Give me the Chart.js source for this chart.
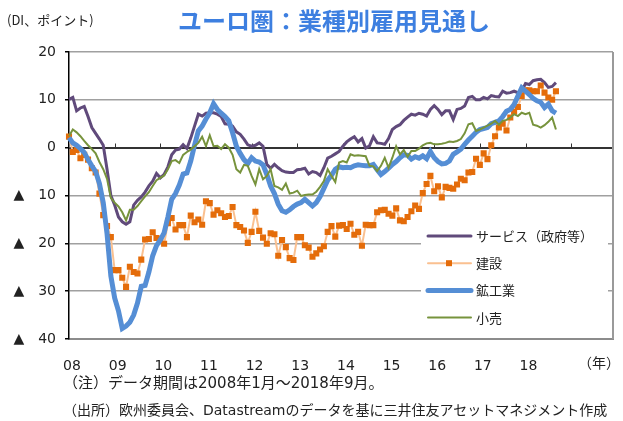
<!DOCTYPE html>
<html lang="ja">
<head>
<meta charset="utf-8">
<script src="https://cdn.jsdelivr.net/npm/chart.js@4.4.1/dist/chart.umd.min.js"></script>
<style>
  html, body { margin: 0; padding: 0; background: #fff; }
  #wrap { position: relative; width: 623px; height: 421px; overflow: hidden; font-family: "DejaVu Sans", "Noto Sans CJK JP", sans-serif; color: #222; }
  #chart { position: absolute; left: 0; top: 0; }
  .txt { position: absolute; white-space: nowrap; line-height: 18px; }
  #unit { left: 7px; top: 11px; font-size: 13px; font-family: "Noto Sans CJK JP", sans-serif; }
  #title { left: 178px; top: 5px; font-size: 24px; line-height: 30px; font-weight: bold; color: #3d7fe0; font-family: "Noto Sans CJK JP", sans-serif; }
  #nen { left: 578px; top: 353px; font-size: 14px; font-family: "Noto Sans CJK JP", sans-serif; }
  #note1 { left: 63px; top: 374px; font-size: 15px; }
  #note2 { left: 63px; top: 401px; font-size: 14px; }
</style>
</head>
<body>
<div id="wrap">
  <canvas id="chart" width="623" height="421"></canvas>
  <div class="txt" id="unit">(DI、ポイント)</div>
  <div class="txt" id="title">ユーロ圏：業種別雇用見通し</div>
  <div class="txt" id="nen">（年）</div>
  <div class="txt" id="note1">（注）データ期間は2008年1月～2018年9月。</div>
  <div class="txt" id="note2">（出所）欧州委員会、Datastreamのデータを基に三井住友アセットマネジメント作成</div>
</div>
<script>
// 2008年1月～2018年9月（月次）
const yearLabels = ["08", "09", "10", "11", "12", "13", "14", "15", "16", "17", "18"];
const seriesNames = ["サービス（政府等）", "建設", "鉱工業", "小売"];

const services = [
  10.1, 10.5, 7.7, 8.3, 8.6, 6.5, 4.2, 3.0, 1.8, 0.5, -4.5, -10.0,
  -12.0, -14.5, -15.5, -16.0, -15.5, -12.0, -11.0, -10.3, -9.3, -8.0, -7.0, -5.4,
  -6.3, -5.6, -4.0, -1.5, -0.5, -0.3, 0.6, -0.2, 2.0, 4.5, 7.0, 6.6,
  7.2, 7.3, 7.3, 7.0, 6.5, 5.0, 4.9, 4.5, 3.3, 2.8, 1.8, 0.6,
  0.3, 0.5, 1.0, 0.3, -3.5, -4.3, -3.5, -4.2, -4.8, -5.1, -5.2, -5.2,
  -4.6, -4.5, -4.3, -5.5, -5.0, -5.2, -5.8, -4.2, -2.2, -1.8, -1.3, -0.8,
  0.3, 1.2, 1.8, 2.3, 1.2, 1.9, -0.1, 0.4, 2.3, 1.0, 0.9, 0.7,
  1.9, 3.8, 4.4, 4.8, 5.7, 6.4, 7.0, 6.8, 7.2, 7.0, 6.6, 8.0,
  8.8, 8.0, 6.9, 7.7, 7.7, 5.9, 8.0, 8.2, 8.7, 10.5, 10.7, 10.0,
  10.0, 10.5, 10.2, 10.9, 10.7, 10.6, 11.8, 11.4, 11.5, 11.8, 11.5, 11.8,
  13.4, 13.2, 14.0, 14.2, 14.3, 13.6, 12.6, 12.8, 13.6
];

const construction = [
  2.3, -0.9, -0.5, -2.2, -1.5, -2.5, -4.3, -5.2, -9.6, -14.1, -16.4, -18.7,
  -25.6, -25.6, -27.2, -29.1, -24.9, -26.0, -26.3, -23.4, -19.2, -19.1, -17.7, -18.9,
  -19.1, -20.1, -15.8, -14.7, -17.1, -16.2, -16.2, -18.7, -14.2, -15.6, -15.0, -16.1,
  -11.2, -11.6, -14.0, -13.1, -13.7, -14.5, -14.3, -12.4, -16.2, -16.6, -17.3, -19.9,
  -17.6, -13.4, -17.4, -18.8, -20.1, -17.9, -18.1, -22.6, -19.3, -20.8, -23.1, -23.5,
  -18.7, -18.7, -20.4, -20.9, -22.8, -22.1, -21.3, -20.6, -17.6, -16.4, -18.6, -16.3,
  -16.2, -17.0, -15.9, -18.2, -17.6, -20.5, -16.1, -16.2, -16.2, -13.5, -13.1, -13.0,
  -13.8, -14.2, -12.7, -15.2, -15.4, -14.5, -13.3, -12.1, -12.8, -9.5, -7.6, -5.9,
  -9.1, -8.1, -10.4, -8.2, -8.4, -8.6, -7.7, -6.5, -6.8, -5.2, -5.1, -2.3,
  -3.6, -1.2, -2.4, 0.5, 2.4, 4.2, 5.0, 3.6, 6.3, 7.5, 8.5, 10.8,
  12.0, 12.0, 11.8, 11.8, 13.0, 11.5, 10.5, 10.0, 11.8
];

const industry = [
  2.1, 1.0, 0.5, -0.2, -1.0, -2.5, -3.8, -5.0, -7.5, -11.5, -18.0, -26.8,
  -31.4, -34.1, -37.8, -37.3, -36.5, -35.0, -32.5, -29.0, -28.8, -26.0, -22.6, -20.5,
  -19.3, -17.8, -14.5, -10.8, -9.6, -7.8, -5.5, -5.3, -2.8, 0.5, 3.5, 4.5,
  6.0, 7.3, 9.2, 8.0, 7.2, 6.5, 5.6, 3.1, 0.3, -1.2, -2.5, -3.3,
  -2.1, -2.8, -3.0, -3.6, -5.6, -8.0, -9.6, -11.8, -13.2, -13.5, -13.0, -12.3,
  -11.8, -11.5, -10.8, -11.5, -12.2, -11.5, -10.2, -8.5, -6.8, -5.8, -4.5, -4.0,
  -4.2, -4.1, -4.2, -3.8, -3.6, -3.7, -3.8, -3.8, -3.5, -4.6, -5.6, -5.0,
  -4.3, -3.5, -2.9, -2.1, -1.5, -1.6, -2.4, -1.9, -2.2, -1.7, -2.3, -0.8,
  -2.1, -2.9, -3.4, -3.3, -2.8, -1.4, -0.9, -0.3, 0.7, 1.6, 2.4, 3.2,
  3.8, 4.0, 4.2, 5.0, 5.3, 5.6, 6.5, 7.6, 8.0, 9.0, 10.8, 12.5,
  11.8, 11.1, 10.3, 9.8, 9.5, 8.4, 9.1, 7.7, 7.2
];

const retail = [
  2.4, 3.8, 3.2, 2.4, 1.4, 0.5, -0.3, -1.2, -3.0, -4.5, -6.5, -10.5,
  -11.5, -12.3, -13.5, -15.2, -13.0, -13.0, -12.2, -11.2, -10.2, -9.3, -8.0, -6.8,
  -6.3, -5.8, -4.5, -2.8, -2.6, -3.2, -1.5, -0.9, -0.4, 0.3, 1.0, 2.3,
  0.3, 2.6, 0.3, 0.4, -0.3, 0.7, 0.0, -1.5, -4.5, -5.2, -3.6, -3.8,
  -5.9, -7.7, -4.5, -6.6, -5.9, -4.5, -8.0, -8.3, -8.8, -7.5, -9.6, -9.4,
  -9.0, -10.1, -9.9, -9.8, -9.8, -9.2, -8.2, -7.0, -4.5, -5.9, -7.2, -3.1,
  -2.8, -3.1, -1.4, -1.7, -1.6, -1.7, -1.8, -3.8, -3.9, -4.9, -3.8, -2.1,
  -4.2, -2.1, 0.3, -1.4, -0.5, -1.9, -0.7, -0.7, -0.2, 0.5, 0.9, 1.0,
  0.7, 0.7, 0.8, 1.0, 1.3, 1.2, 1.4, 1.8, 3.0, 4.9, 5.1, 3.5,
  3.8, 4.2, 4.6, 5.0, 5.6, 4.8, 5.6, 5.8, 6.3, 7.0, 6.6, 7.3,
  7.0, 7.3, 4.8, 4.6, 4.2, 4.7, 5.4, 6.3, 3.8
];

// 横軸は2008年1月～2019年12月（144か月分の目盛り）
const monthLabels = [];
for (let i = 0; i < 144; i++) {
  const y = 2008 + Math.floor(i / 12);
  monthLabels.push(y + "-" + String((i % 12) + 1).padStart(2, "0"));
}

const CHART_LEFT = 69;
const CHART_RIGHT = 613;
const CHART_TOP = 52;
const CHART_BOTTOM = 339;

// ゼロ線上の目盛りと右枠線
const axisExtras = {
  id: "axisExtras",
  beforeDatasetsDraw(chart) {
    const { ctx, chartArea, scales } = chart;
    const y0 = Math.round(scales.y.getPixelForValue(0)) + 0.5;
    ctx.save();
    ctx.strokeStyle = "#333";
    ctx.lineWidth = 1;
    ctx.beginPath();
    ctx.moveTo(chartArea.left, y0);
    ctx.lineTo(chartArea.right, y0);
    for (let i = 12; i < monthLabels.length; i += 12) {
      const x = Math.round(scales.x.getPixelForValue(i)) + 0.5;
      ctx.moveTo(x, y0);
      ctx.lineTo(x, y0 - 5);
    }
    ctx.stroke();
    ctx.strokeStyle = "#9a9a9a";
    ctx.lineWidth = 2;
    ctx.beginPath();
    ctx.moveTo(chartArea.right, chartArea.top);
    ctx.lineTo(chartArea.right, chartArea.bottom);
    ctx.stroke();
    ctx.restore();
  },
};

// 凡例（グラフ内右下）
const legendBox = {
  id: "legendBox",
  afterDraw(chart) {
    const ctx = chart.ctx;
    ctx.save();
    ctx.fillStyle = "#fff";
    ctx.fillRect(421, 219, 187, 116);
    ctx.font = '13px "Noto Sans CJK JP"';
    ctx.textBaseline = "middle";
    chart.data.datasets.forEach((ds, i) => {
      const cy = 236 + i * 27.2;
      ctx.strokeStyle = ds.borderColor;
      ctx.lineWidth = ds.borderWidth;
      ctx.lineCap = "round";
      ctx.beginPath();
      ctx.moveTo(428, cy);
      ctx.lineTo(471, cy);
      ctx.stroke();
      if (ds.pointRadius) {
        ctx.fillStyle = ds.pointBackgroundColor;
        ctx.fillRect(446, cy - 3, 6, 6);
      }
      ctx.fillStyle = "#222";
      ctx.fillText(ds.label, 476, cy);
    });
    ctx.restore();
  },
};

function lineSet(label, data, color, width, order) {
  return {
    label: label,
    data: data,
    borderColor: color,
    borderWidth: width,
    pointRadius: 0,
    tension: 0,
    order: order,
  };
}

const construct = lineSet(seriesNames[1], construction, "#fac090", 2, 3);
construct.pointRadius = 4.3;
construct.pointStyle = "rect";
construct.pointBackgroundColor = "#e46c0a";
construct.pointBorderWidth = 0;

new Chart(document.getElementById("chart"), {
  type: "line",
  data: {
    labels: monthLabels,
    datasets: [
      lineSet(seriesNames[0], services, "#604a7b", 3, 4),
      construct,
      lineSet(seriesNames[2], industry, "#558ed5", 5, 2),
      lineSet(seriesNames[3], retail, "#77933c", 2, 1),
    ],
  },
  options: {
    responsive: false,
    animation: false,
    layout: { padding: { top: CHART_TOP, right: 623 - CHART_RIGHT, left: 0, bottom: 0 } },
    plugins: {
      legend: { display: false },
      title: { display: false },
      tooltip: { enabled: false },
    },
    scales: {
      x: {
        type: "category",
        offset: false,
        grid: { display: false, drawTicks: false },
        border: { color: "#8c8c8c", width: 2 },
        afterFit: (scale) => { scale.height = 421 - CHART_BOTTOM; },
        ticks: {
          autoSkip: false,
          maxRotation: 0,
          padding: 19,
          labelOffset: 3,
          color: "#222",
          font: { family: "DejaVu Sans", size: 14 },
          callback: (value, index) => {
            if (index % 12 !== 0) return null;
            const k = index / 12;
            return k < yearLabels.length ? yearLabels[k] : null;
          },
        },
      },
      y: {
        min: -40,
        max: 20,
        afterFit: (scale) => { scale.width = CHART_LEFT; },
        grid: {
          color: (ctx) => (ctx.tick && ctx.tick.value === 0 ? "#333" : "#a0a0a0"),
          lineWidth: 1.5,
          tickLength: 4,
          tickColor: "#000",
        },
        border: { color: "#000", width: 1.5 },
        ticks: {
          stepSize: 10,
          padding: 9,
          color: "#222",
          font: { family: "DejaVu Sans", size: 14 },
          callback: (v) => (v < 0 ? "▲\u2003" + Math.abs(v) : String(v)),
        },
      },
    },
  },
  plugins: [axisExtras, legendBox],
});
</script>
</body>
</html>
